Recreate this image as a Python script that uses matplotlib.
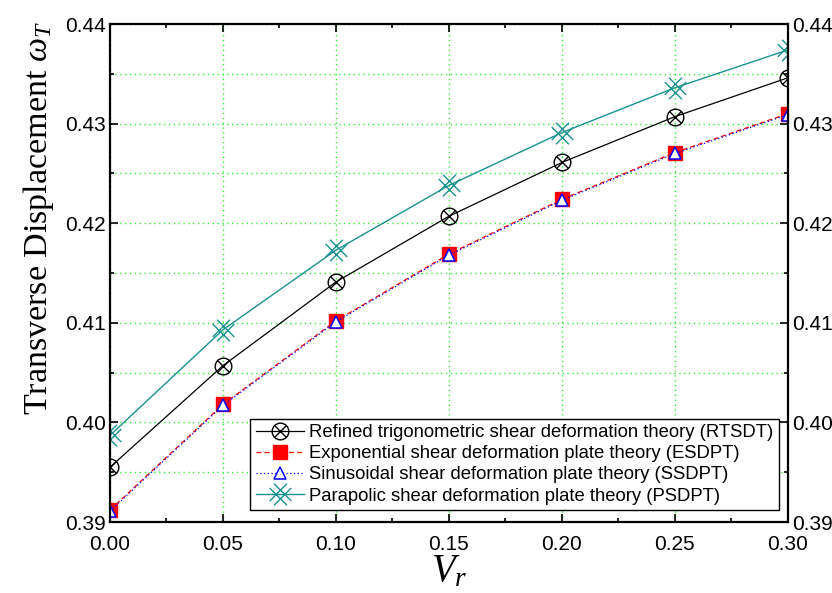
import matplotlib
matplotlib.use("Agg")
import matplotlib.pyplot as plt
from matplotlib.path import Path
from matplotlib.lines import Line2D
from matplotlib.ticker import MultipleLocator, FormatStrFormatter

vr = [0.00, 0.05, 0.10, 0.15, 0.20, 0.25, 0.30]
rtsdt = [0.3955, 0.4057, 0.4141, 0.4207, 0.4261, 0.4307, 0.4346]
esdpt = [0.3912, 0.4018, 0.4102, 0.4169, 0.4224, 0.4271, 0.4310]
ssdpt = [0.3911, 0.4017, 0.4101, 0.4168, 0.4223, 0.4270, 0.4309]
psdpt = [0.3987, 0.4093, 0.4173, 0.4238, 0.4291, 0.4336, 0.4374]

labels = ["Refined trigonometric shear deformation theory (RTSDT)",
          "Exponential shear deformation plate theory (ESDPT)",
          "Sinusoidal shear deformation plate theory (SSDPT)",
          "Parapolic shear deformation plate theory (PSDPT)"]

plt.rcParams['font.family'] = ['Liberation Sans', 'DejaVu Sans']
plt.rcParams['mathtext.fontset'] = 'custom'
plt.rcParams['mathtext.it'] = 'Liberation Serif:italic'
plt.rcParams['mathtext.rm'] = 'Liberation Serif'

fig = plt.figure(figsize=(8.32, 5.93), dpi=100)
ax = fig.add_axes([0.1322, 0.1197, 0.8148, 0.8398])

# diagonal lattice marker (two overlapping crosses)
a = 0.4
verts = [(-1, -1 + a), (1 - a, 1),
         (-1 + a, -1), (1, 1 - a),
         (-1 + a, 1), (1, -1 + a),
         (-1, 1 - a), (1 - a, -1)]
codes = [Path.MOVETO, Path.LINETO] * 4
lattice = Path(verts, codes)

teal = '#1a9090'
l_rt, = ax.plot(vr, rtsdt, color='black', lw=0.9, marker='o', ms=12, mfc='none',
                mec='black', mew=1.0)
ax.plot(vr, rtsdt, color='none', lw=0, marker='x', ms=8.5, mec='black', mew=1.0)
l_es, = ax.plot(vr, esdpt, color='red', lw=0.9, ls=(0, (4, 2.5)), marker='s', ms=10,
                mfc='red', mec='red')
l_ss, = ax.plot(vr, ssdpt, color='blue', lw=0.9, ls=(0, (1, 2)), marker='^', ms=9,
                mfc='white', mec='blue', mew=1.1)
l_ps, = ax.plot(vr, psdpt, color=teal, lw=1.0, marker=lattice, ms=15.5, mfc='none',
                mec=teal, mew=1.0)

hx = Line2D([], [], color='black', lw=0.9, marker='o', ms=12, mfc='none', mec='black')
hx2 = Line2D([], [], color='none', lw=0, marker='x', ms=8.5, mec='black')
handles = [(hx, hx2), l_es, l_ss, l_ps]

ax.set_xlim(0.0, 0.30)
ax.set_ylim(0.39, 0.44)
ax.xaxis.set_major_locator(MultipleLocator(0.05))
ax.xaxis.set_minor_locator(MultipleLocator(0.025))
ax.yaxis.set_major_locator(MultipleLocator(0.01))
ax.yaxis.set_minor_locator(MultipleLocator(0.005))
ax.xaxis.set_major_formatter(FormatStrFormatter('%.2f'))
ax.yaxis.set_major_formatter(FormatStrFormatter('%.2f'))

ax.grid(True, which='major', axis='x', color='#33ee33', ls=(0, (1, 2.5)), lw=1.0)
ax.grid(True, which='both', axis='y', color='#33ee33', ls=(0, (1, 2.5)), lw=1.0)
ax.set_axisbelow(True)

ax.tick_params(which='both', direction='in', top=True, right=True,
               labelright=True, labelsize=15, width=1.2, pad=3)
ax.tick_params(axis='x', which='both', pad=9)
ax.tick_params(which='major', length=6)
ax.tick_params(which='minor', length=3)
for sp in ax.spines.values():
    sp.set_linewidth(1.6)

ax.set_ylabel(r'Transverse Displacement $\omega_T$', family='Liberation Serif',
              fontsize=24.5)
ax.yaxis.set_label_coords(-0.08, 0.61)
ax.set_xlabel(r'$V_r$', fontsize=28, labelpad=0)

leg = ax.legend(handles, labels, loc='lower right', bbox_to_anchor=(0.987, 0.024),
                fontsize=13.3, frameon=True, fancybox=False, edgecolor='black',
                framealpha=1, borderpad=0.3, labelspacing=0.22, handlelength=2.6,
                handletextpad=0.3, borderaxespad=0)
leg.get_frame().set_linewidth(1.0)

fig.savefig('out.png', dpi=100)
